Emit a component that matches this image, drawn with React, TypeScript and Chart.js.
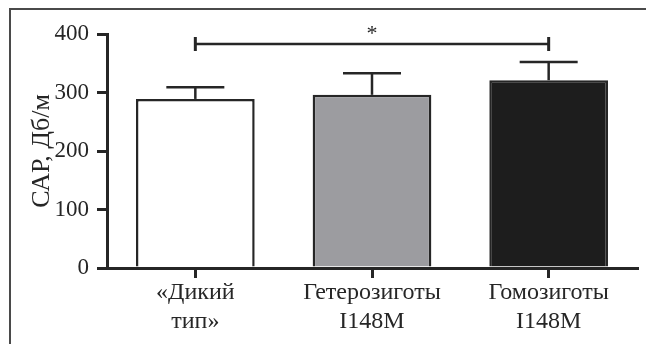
import React, { useEffect, useRef } from "react";
import { Chart, registerables } from "chart.js";

Chart.register(...registerables);

const FONT = "'Liberation Serif', 'Times New Roman', serif";
const INK = "#262626";

const categories = [["«Дикий", "тип»"], ["Гетерозиготы", "I148M"], ["Гомозиготы", "I148M"]];
const means = [289, 296, 321];
const errorsUp = [20, 37, 31];
const barColors = ["#ffffff", "#9c9ca0", "#1d1d1d"];
const yMin = 0;
const yMax = 400;
const yStep = 100;
const bracketFrom = 0;
const bracketTo = 2;
const bracketValue = 383;
const bracketLabel = "*";
const yTitle = "САР, Дб/м";

export default function App() {
  const ref = useRef<HTMLCanvasElement>(null);

  useEffect(() => {
    const canvas = ref.current!;
    const extras = {
      id: "extras",
      afterDatasetsDraw(chart: any) {
        const ctx = chart.ctx;
        const x = chart.scales.x;
        const y = chart.scales.y;
        ctx.save();
        ctx.strokeStyle = INK;
        ctx.lineWidth = 2.5;
        means.forEach((m, i) => {
          const cx = x.getPixelForValue(i);
          const y0 = y.getPixelForValue(m);
          const y1 = y.getPixelForValue(m + errorsUp[i]);
          ctx.beginPath();
          ctx.moveTo(cx, y0);
          ctx.lineTo(cx, y1);
          ctx.stroke();
          ctx.beginPath();
          ctx.moveTo(cx - 29, y1);
          ctx.lineTo(cx + 29, y1);
          ctx.stroke();
        });
        const bx0 = x.getPixelForValue(bracketFrom);
        const bx1 = x.getPixelForValue(bracketTo);
        const by = y.getPixelForValue(bracketValue);
        ctx.beginPath();
        ctx.moveTo(bx0, by);
        ctx.lineTo(bx1, by);
        ctx.stroke();
        ctx.lineWidth = 3;
        ctx.beginPath();
        ctx.moveTo(bx0, by - 7);
        ctx.lineTo(bx0, by + 7);
        ctx.moveTo(bx1, by - 7);
        ctx.lineTo(bx1, by + 7);
        ctx.stroke();
        ctx.fillStyle = INK;
        ctx.font = `22px ${FONT}`;
        ctx.textAlign = "center";
        ctx.textBaseline = "middle";
        ctx.fillText(bracketLabel, (bx0 + bx1) / 2, by - 10);
        // frame
        ctx.strokeStyle = "#4a4a4a";
        ctx.lineWidth = 2;
        ctx.beginPath();
        ctx.moveTo(10, chart.height);
        ctx.lineTo(10, 9);
        ctx.lineTo(chart.width, 9);
        ctx.stroke();
        ctx.restore();
      },
    };

    const chart = new Chart(canvas, {
      type: "bar",
      data: {
        labels: categories,
        datasets: [
          {
            data: means,
            backgroundColor: barColors,
            borderColor: INK,
            borderWidth: 2.5,
            barPercentage: 0.672,
            categoryPercentage: 1,
          },
        ],
      },
      options: {
        animation: false,
        responsive: false,
        layout: { padding: { top: 34, right: 9, left: 0, bottom: 0 } },
        plugins: { legend: { display: false }, tooltip: { enabled: false } },
        scales: {
          x: {
            offset: true,
            grid: {
              offset: false,
              drawOnChartArea: false,
              drawTicks: true,
              tickLength: 10,
              color: INK,
              lineWidth: 3,
            },
            border: { color: INK, width: 3 },
            ticks: {
              color: INK,
              font: { family: FONT, size: 24, lineHeight: "29px" },
              padding: 0,
              maxRotation: 0,
              autoSkip: false,
            },
            afterFit(s: any) {
              s.height = 76;
            },
          },
          y: {
            min: yMin,
            max: yMax,
            grid: {
              drawOnChartArea: false,
              drawTicks: true,
              tickLength: 10,
              color: INK,
              lineWidth: 3,
            },
            border: { color: INK, width: 3 },
            ticks: {
              stepSize: yStep,
              color: INK,
              font: { family: FONT, size: 23 },
              padding: 8,
            },
            title: {
              display: true,
              text: yTitle,
              color: INK,
              font: { family: FONT, size: 26 },
              padding: { top: 27, bottom: 0 },
            },
            afterFit(s: any) {
              s.width = 107;
            },
          },
        },
      },
      plugins: [extras],
    });
    return () => chart.destroy();
  }, []);

  return (
    <div style={{ position: "absolute", left: 0, top: 0, width: 646, height: 344, background: "#fff" }}>
      <canvas ref={ref} width={646} height={344} style={{ display: "block" }} />
    </div>
  );
}
